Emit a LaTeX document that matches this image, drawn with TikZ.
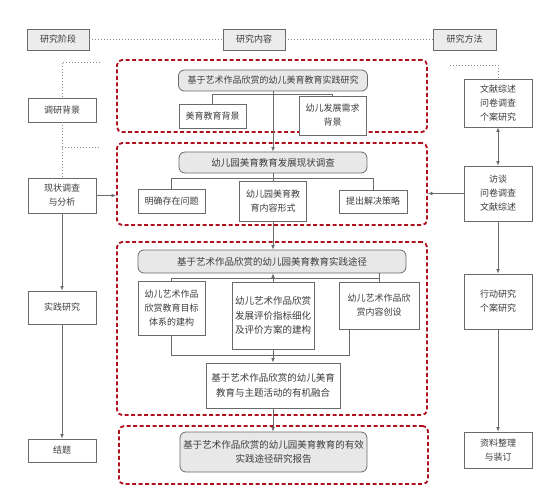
\documentclass[tikz,border=0pt]{standalone}
\usepackage{fontspec}
\setmainfont{Noto Sans CJK SC}
\usetikzlibrary{arrows.meta}
\definecolor{txtc}{HTML}{3C3C3C}
\definecolor{linec}{HTML}{6A6A6A}
\definecolor{dotc}{HTML}{8A8A8A}
\definecolor{redc}{HTML}{B0101E}
\definecolor{boxfill}{HTML}{E8E8E8}
\definecolor{headfill}{HTML}{ECECEC}
\begin{document}
\begin{tikzpicture}[x=1pt,y=-1pt,
  txt/.style={font=\fontsize{9}{14}\selectfont, text=txtc, align=center, inner sep=0pt},
  bigtxt/.style={font=\fontsize{9.5}{14.5}\selectfont},
  plain/.style={txt, draw=linec, line width=0.8pt, fill=white},
  titlebox/.style={plain, fill=boxfill, rounded corners=6pt},
  headbox/.style={plain, fill=headfill},
  redbox/.style={draw=redc, line width=1.8pt, dash pattern=on 4pt off 2.5pt, rounded corners=5pt, inner sep=0pt},
  conn/.style={draw=linec, line width=0.8pt},
  arr/.style={conn, -{Latex[length=4.5pt,width=3.8pt]}},
  darr/.style={conn, {Latex[length=4.5pt,width=3.8pt]}-{Latex[length=4.5pt,width=3.8pt]}},
  dots/.style={draw=dotc, line width=0.8pt, dash pattern=on 0.8pt off 2.2pt}]
\fill[white] (0,0) rectangle (560,500);
\useasboundingbox (0,0) rectangle (560,500);

% red dashed groups
\node[redbox, minimum width=310pt, minimum height=72pt] (r1) at (272,96) {};
\node[redbox, minimum width=310pt, minimum height=82pt] (r2) at (272,184) {};
\node[redbox, minimum width=310pt, minimum height=173pt] (r3) at (272,328.5) {};
\node[redbox, minimum width=309pt, minimum height=58pt] (r4) at (273.5,455) {};

% header row
\node[headbox, minimum width=62pt, minimum height=21pt] (stage) at (58,39.5) {研究阶段};
\node[headbox, minimum width=62pt, minimum height=21pt] (content) at (254,39.5) {研究内容};
\node[headbox, minimum width=63pt, minimum height=21pt] (method) at (464.5,39.5) {研究方法};

% left column
\node[plain, minimum width=68pt, minimum height=24pt] (bg) at (62,110) {调研背景};
\node[plain, minimum width=68pt, minimum height=35pt] (survey) at (62,195.5) {现状调查\\与分析};
\node[plain, minimum width=68pt, minimum height=33pt] (practice) at (62,307.5) {实践研究};
\node[plain, minimum width=68pt, minimum height=23pt] (conclude) at (62,450.5) {结题};

% right column
\node[plain, minimum width=68pt, minimum height=48pt] (m1) at (498,103) {文献综述\\问卷调查\\个案研究};
\node[plain, minimum width=68pt, minimum height=55pt] (m2) at (498,193.5) {访谈\\问卷调查\\文献综述};
\node[plain, minimum width=68pt, minimum height=55pt] (m3) at (498,301.5) {行动研究\\个案研究};
\node[plain, minimum width=68pt, minimum height=36pt] (m4) at (498,450) {资料整理\\与装订};

% group 1
\node[titlebox, minimum width=189pt, minimum height=21pt] (t1) at (273,80.5) {基于艺术作品欣赏的幼儿美育教育实践研究};
\node[plain, minimum width=67pt, minimum height=24pt] (a1) at (212.5,116) {美育教育背景};
\node[plain, minimum width=67pt, minimum height=39pt] (a2) at (332.5,115.5) {幼儿发展需求\\背景};

% group 2
\node[titlebox, bigtxt, minimum width=188pt, minimum height=21pt] (t2) at (273,162.5) {幼儿园美育教育发展现状调查};
\node[plain, minimum width=67pt, minimum height=24pt] (b1) at (171.5,201) {明确存在问题};
\node[plain, minimum width=67pt, minimum height=40pt] (b2) at (273,201) {幼儿园美育教\\育内容形式};
\node[plain, minimum width=68pt, minimum height=23pt] (b3) at (373,201.5) {提出解决策略};

% group 3
\node[titlebox, bigtxt, minimum width=268pt, minimum height=23pt] (t3) at (272,261.5) {基于艺术作品欣赏的幼儿园美育教育实践途径};
\node[plain, minimum width=67pt, minimum height=54pt] (c1) at (171.5,308) {幼儿艺术作品\\欣赏教育目标\\体系的建构};
\node[plain, bigtxt, minimum width=82pt, minimum height=67pt] (c2) at (273,315.5) {幼儿艺术作品欣赏\\发展评价指标细化\\及评价方案的建构};
\node[plain, minimum width=80pt, minimum height=47pt] (c3) at (379,305.5) {幼儿艺术作品欣\\赏内容创设};
\node[plain, bigtxt, minimum width=134pt, minimum height=45pt] (c4) at (273,385.5) {基于艺术作品欣赏的幼儿美育\\教育与主题活动的有机融合};

% group 4
\node[titlebox, bigtxt, minimum width=187pt, minimum height=40pt] (t4) at (273.5,452) {基于艺术作品欣赏的幼儿园美育教育的有效\\实践途径研究报告};

% junction coordinates
\coordinate (ja) at (273,94);
\coordinate (jb) at (273,178);
\coordinate (jc) at (273,278);
\coordinate (jd) at (349,355);

% dotted guides
\draw[dots] (stage.east) -- (content.west);
\draw[dots] (content.east) -- (method.west);
\draw[dots] (100,62) -- (62,62) -- (bg.north);
\draw[dots] (bg.south) -- (survey.north);
\draw[dots] (62,147) -- (100,147);
\draw[dots] (450,65) -- (498,65) -- (m1.north);

% left column flow
\draw[arr] (survey.east) -- (survey.east -| r2.west);
\draw[arr] (survey.south) -- (practice.north);
\draw[arr] (practice.south) -- (conclude.north);

% right column flow
\draw[darr] (m1.south) -- (m2.north);
\draw[arr] (m2.west) -- (m2.west -| r2.east);
\draw[arr] (m2.south) -- (m3.north);
\draw[arr] (m3.south) -- (m4.north);

% group 1 links
\draw[conn] (a1.north) |- (a2.north |- ja) -- (a2.north);
\draw[arr] (t1.south) -- (t1.south |- t2.north);

% group 2 links
\draw[conn] (b1.north) |- (b3.north |- jb) -- (b3.north);
\draw[conn] (t2.south) -- (b2.north);
\draw[arr] (b2.south) -- (b2.south |- t3.north);

% group 3 links
\draw[conn] (c1.north) |- (c3.north |- jc) -- (c3.north);
\draw[conn] (c3.north) -- (c3.north |- t3.south);
\draw[arr] (c2.north) -- (c2.north |- t3.south);
\draw[conn] (c1.south) |- (jd) -- (jd |- c3.south);
\draw[arr] (c2.south) -- (c4.north);
\draw[arr] (c4.south) -- (c4.south |- t4.north);
\end{tikzpicture}
\end{document}
